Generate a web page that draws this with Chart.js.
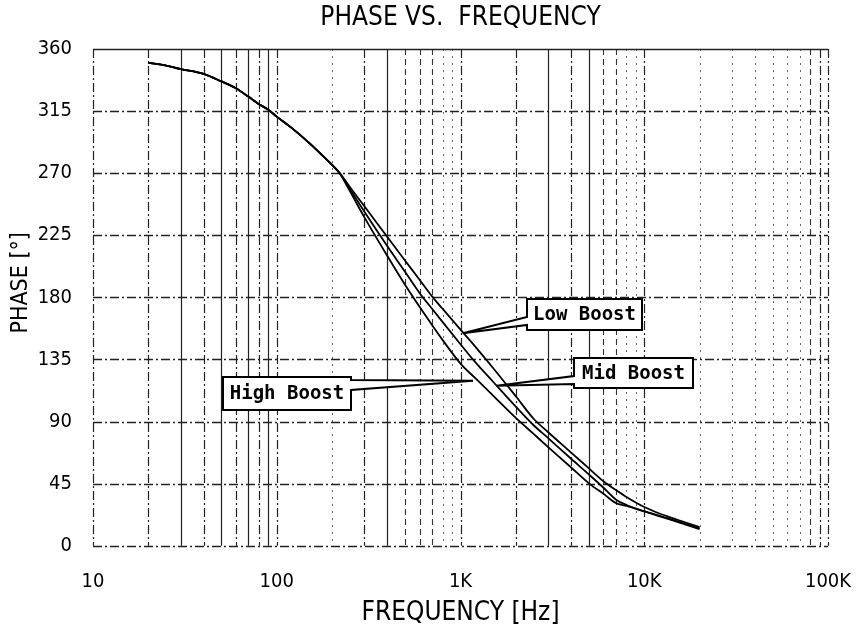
<!DOCTYPE html>
<html>
<head>
<meta charset="utf-8">
<script src="https://cdn.jsdelivr.net/npm/chart.js@4/dist/chart.umd.min.js"></script>
<style>
  html, body { margin: 0; padding: 0; background: #fff; }
  #wrap { width: 857px; height: 629px; position: relative; }
</style>
</head>
<body>
<div id="wrap"><canvas id="c" width="857" height="629"></canvas></div>
<script>
// ---------------- DATA ----------------
const freqs = [20, 25, 30, 40, 50, 60, 70, 80, 90, 100, 120, 150, 180, 200, 220, 250, 300, 400, 500, 600, 700, 800, 1000, 1200, 1500, 2000, 2500, 3000, 4000, 5000, 6000, 7000, 8000, 10000, 12000, 15000, 20000];
const lowBoost  = [350, 348, 345.5, 342, 336.5, 331.5, 325.5, 320, 316, 311, 303, 292, 282, 276, 270, 260, 246, 223.7, 206.5, 192.6, 180.7, 171.6, 156.6, 144.5, 129, 108.3, 92, 82.2, 67.5, 56, 46.7, 40.4, 35.3, 28, 23.5, 19, 13.5];
const midBoost  = [350, 348, 345.5, 342, 336.5, 331.5, 325.5, 320, 316, 311, 303, 292, 282, 276, 270, 258.4, 242, 217, 198.4, 183, 171.7, 162, 146, 133.2, 119, 100.8, 87.3, 78, 63, 51.6, 42, 33.5, 29.5, 25, 21.8, 17.8, 12.5];
const highBoost = [350, 348, 345.5, 342, 336.5, 331.5, 325.5, 320, 316, 311, 303, 292, 282, 276, 270, 257, 238, 210, 189, 173, 160, 149, 132, 121.6, 109, 92.6, 81, 71.5, 56.7, 45.2, 37.6, 31, 28.8, 24.8, 21.5, 17.5, 12];
const seriesNames = ['Low Boost', 'Mid Boost', 'High Boost'];
const yTickValues = [0, 45, 90, 135, 180, 225, 270, 315, 360];
const xGridValues = [10, 20, 30, 40, 50, 60, 70, 80, 90,
                     100, 200, 300, 400, 500, 600, 700, 800, 900,
                     1000, 2000, 3000, 4000, 5000, 6000, 7000, 8000, 9000,
                     10000, 20000, 30000, 40000, 50000, 60000, 70000, 80000, 90000, 100000];
const xTickLabels = { 10: '10', 100: '100', 1000: '1K', 10000: '10K', 100000: '100K' };
const chartTitle = 'PHASE VS.  FREQUENCY';
const xTitle = 'FREQUENCY [Hz]';
const yTitle = 'PHASE [°]';
// callout anchors in data coordinates: [box top-left freq, box top-left phase, tip freq, tip phase]
const calloutAnchors = [
  [2312, 178.8, 1030, 154],
  [4165, 136, 1570, 116],
  [50.9, 122.3, 1170, 119.5]
];

// ---------------- STYLES ----------------
const NARROW = '"Liberation Sans Narrow", "DejaVu Sans Condensed", "Arial Narrow", "Liberation Sans", sans-serif';
const MONO = '"DejaVu Sans Mono", "Liberation Mono", monospace';
const lineStyles = {
  solid:   { dash: [],             width: 1.2, color: '#222' },
  dashdot: { dash: [9, 3, 2, 3],   width: 1.2, color: '#222' },
  dash:    { dash: [6, 4],         width: 1.1, color: '#333' },
  dot:     { dash: [2, 5],         width: 1.0, color: '#666' }
};
const xGridStyle = ['dashdot', 'dashdot', 'solid', 'dashdot', 'solid', 'dashdot', 'solid', 'dashdot', 'solid',
                    'dashdot', 'dot', 'dashdot', 'solid', 'dash', 'dash', 'dash', 'dot', 'dot',
                    'dashdot', 'dashdot', 'solid', 'dashdot', 'solid', 'dash', 'dash', 'dot', 'dot',
                    'dashdot', 'dot', 'dot', 'dot', 'dot', 'dot', 'dot', 'dash', 'dashdot', 'dashdot'];
const yGridStyle = ['dashdot', 'dashdot', 'dashdot', 'dashdot', 'dashdot', 'dashdot', 'dashdot', 'dashdot', 'solid'];
const calloutGeom = [
  { side: 'left',  a: 18, b: 26, h: 31, pad: 6 },
  { side: 'left',  a: 18, b: 26, h: 30, pad: 8 },
  { side: 'right', a: 3,  b: 13, h: 33, pad: 7 }
];

// ---------------- PLUGINS ----------------
const gridPlugin = {
  id: 'customGrid',
  beforeDatasetsDraw(chart) {
    const ctx = chart.ctx;
    const { left, right, top, bottom } = chart.chartArea;
    const xs = chart.scales.x, ys = chart.scales.y;
    ctx.save();
    xGridValues.forEach((v, i) => {
      const st = lineStyles[xGridStyle[i]];
      const px = Math.round(xs.getPixelForValue(v)) + 0.5;
      ctx.beginPath();
      ctx.setLineDash(st.dash);
      ctx.lineWidth = st.width;
      ctx.strokeStyle = st.color;
      ctx.moveTo(px, top);
      ctx.lineTo(px, bottom);
      ctx.stroke();
    });
    yTickValues.forEach((v, i) => {
      const st = lineStyles[yGridStyle[i]];
      const py = Math.round(ys.getPixelForValue(v)) + 0.5;
      ctx.beginPath();
      ctx.setLineDash(st.dash);
      ctx.lineWidth = st.width + 0.3;
      ctx.strokeStyle = st.color;
      ctx.moveTo(left, py);
      ctx.lineTo(right, py);
      ctx.stroke();
    });
    ctx.restore();
  }
};

const calloutPlugin = {
  id: 'callouts',
  afterDatasetsDraw(chart) {
    const ctx = chart.ctx;
    const xs = chart.scales.x, ys = chart.scales.y;
    ctx.save();
    ctx.font = 'bold 19px ' + MONO;
    seriesNames.forEach((name, i) => {
      const [bf, bp, tf, tp] = calloutAnchors[i];
      const g = calloutGeom[i];
      const x0 = Math.round(xs.getPixelForValue(bf));
      const y0 = Math.round(ys.getPixelForValue(bp));
      const tw = ctx.measureText(name).width;
      const w = Math.round(tw + 2 * g.pad);
      const x1 = x0 + w, y1 = y0 + g.h;
      const tx = xs.getPixelForValue(tf), ty = ys.getPixelForValue(tp);
      ctx.beginPath();
      if (g.side === 'left') {
        ctx.moveTo(x0, y0); ctx.lineTo(x1, y0); ctx.lineTo(x1, y1); ctx.lineTo(x0, y1);
        ctx.lineTo(x0, y0 + g.b); ctx.lineTo(tx, ty); ctx.lineTo(x0, y0 + g.a); ctx.closePath();
      } else {
        ctx.moveTo(x0, y0); ctx.lineTo(x1, y0); ctx.lineTo(x1, y0 + g.a); ctx.lineTo(tx, ty);
        ctx.lineTo(x1, y0 + g.b); ctx.lineTo(x1, y1); ctx.lineTo(x0, y1); ctx.closePath();
      }
      ctx.setLineDash([]);
      ctx.fillStyle = '#fff';
      ctx.fill();
      ctx.lineWidth = 2;
      ctx.strokeStyle = '#000';
      ctx.stroke();
      ctx.fillStyle = '#000';
      ctx.textAlign = 'center';
      ctx.textBaseline = 'middle';
      ctx.fillText(name, (x0 + x1) / 2, (y0 + y1) / 2 + 1);
    });
    ctx.restore();
  }
};

const yTitlePlugin = {
  id: 'yTitle',
  afterDraw(chart) {
    const ctx = chart.ctx;
    const ys = chart.scales.y;
    ctx.save();
    ctx.translate(21, ys.getPixelForValue(190.5));
    ctx.rotate(-Math.PI / 2);
    ctx.font = '23px ' + NARROW;
    ctx.fillStyle = '#000';
    ctx.textAlign = 'center';
    ctx.textBaseline = 'middle';
    ctx.fillText(yTitle, 0, 0);
    ctx.restore();
  }
};

// ---------------- CHART ----------------
const mk = (arr) => freqs.map((f, i) => ({ x: f, y: arr[i] }));
new Chart(document.getElementById('c'), {
  type: 'line',
  data: {
    datasets: [lowBoost, midBoost, highBoost].map((arr, i) => ({
      label: seriesNames[i],
      data: mk(arr),
      borderColor: '#000',
      borderWidth: 1.8,
      pointRadius: 0,
      fill: false,
      cubicInterpolationMode: 'monotone'
    }))
  },
  options: {
    responsive: false,
    animation: false,
    layout: { padding: { left: 0, right: 29, top: 0, bottom: 0 } },
    plugins: {
      legend: { display: false },
      tooltip: { enabled: false },
      title: {
        display: true,
        fullSize: false,
        text: chartTitle,
        color: '#000',
        font: { family: NARROW, size: 26, weight: 'normal', lineHeight: 1.2 },
        padding: { top: 3, bottom: 14.8 }
      }
    },
    scales: {
      x: {
        type: 'logarithmic',
        min: 10, max: 100000,
        afterBuildTicks: (s) => { s.ticks = xGridValues.map(v => ({ value: v })); },
        afterFit: (s) => { s.height = 83.3; },
        grid: { display: false, drawTicks: false },
        border: { display: false },
        ticks: {
          autoSkip: false, maxRotation: 0, minRotation: 0, padding: 3,
          color: '#000',
          font: { family: NARROW, size: 20, lineHeight: 3.3 },
          callback: (v) => xTickLabels[Math.round(v)] || ''
        },
        title: {
          display: true, text: xTitle, color: '#000',
          font: { family: NARROW, size: 26 },
          padding: { top: 0, bottom: 0 }
        }
      },
      y: {
        min: 0, max: 360,
        afterBuildTicks: (s) => { s.ticks = yTickValues.map(v => ({ value: v })); },
        afterFit: (s) => { s.width = 93; },
        grid: { display: false, drawTicks: false },
        border: { display: false },
        ticks: {
          padding: 21, color: '#000',
          font: { family: NARROW, size: 20 },
          callback: (v) => String(v)
        }
      }
    }
  },
  plugins: [gridPlugin, calloutPlugin, yTitlePlugin]
});
</script>
</body>
</html>
